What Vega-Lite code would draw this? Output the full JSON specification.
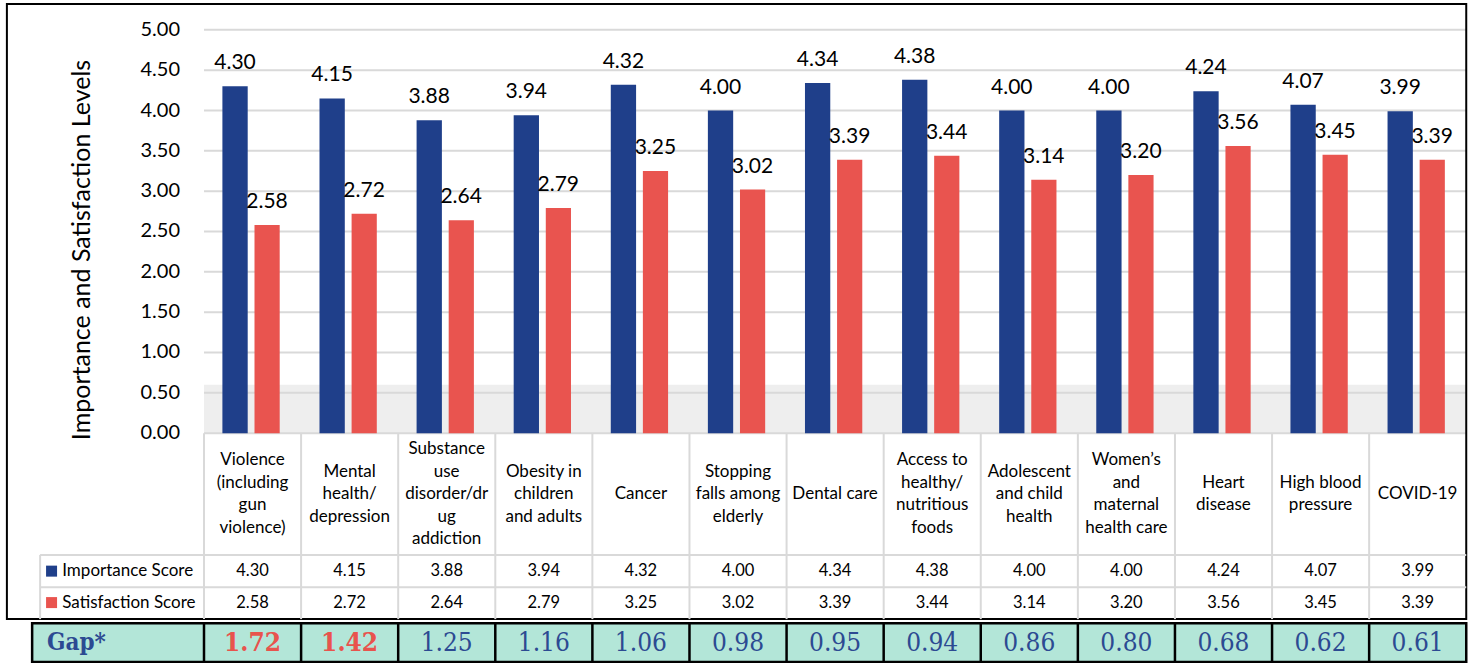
{
  "$schema": "https://vega.github.io/schema/vega-lite/v6.json",
  "width": 1267,
  "height": 663,
  "padding": {"left": 204, "top": 0, "right": 0, "bottom": 0},
  "autosize": {"type": "none"},
  "background": "white",
  "config": {"view": {"stroke": null}, "font": "Lato", "text": {"color": "#000000"}},
  "datasets": {
    "main": [
      {"n": 0, "cat": ["Violence", "(including", "gun", "violence)"], "imp": 4.30, "sat": 2.58, "gap": 1.72},
      {"n": 1, "cat": ["Mental", "health/", "depression"], "imp": 4.15, "sat": 2.72, "gap": 1.42},
      {"n": 2, "cat": ["Substance", "use", "disorder/dr", "ug", "addiction"], "imp": 3.88, "sat": 2.64, "gap": 1.25},
      {"n": 3, "cat": ["Obesity in", "children", "and adults"], "imp": 3.94, "sat": 2.79, "gap": 1.16},
      {"n": 4, "cat": ["Cancer"], "imp": 4.32, "sat": 3.25, "gap": 1.06},
      {"n": 5, "cat": ["Stopping", "falls among", "elderly"], "imp": 4.00, "sat": 3.02, "gap": 0.98},
      {"n": 6, "cat": ["Dental care"], "imp": 4.34, "sat": 3.39, "gap": 0.95},
      {"n": 7, "cat": ["Access to", "healthy/", "nutritious", "foods"], "imp": 4.38, "sat": 3.44, "gap": 0.94},
      {"n": 8, "cat": ["Adolescent", "and child", "health"], "imp": 4.00, "sat": 3.14, "gap": 0.86},
      {"n": 9, "cat": ["Women’s", "and", "maternal", "health care"], "imp": 4.00, "sat": 3.20, "gap": 0.80},
      {"n": 10, "cat": ["Heart", "disease"], "imp": 4.24, "sat": 3.56, "gap": 0.68},
      {"n": 11, "cat": ["High blood", "pressure"], "imp": 4.07, "sat": 3.45, "gap": 0.62},
      {"n": 12, "cat": ["COVID-19"], "imp": 3.99, "sat": 3.39, "gap": 0.61}
    ],
    "grid": [
      {"v": 0}, {"v": 0.5}, {"v": 1}, {"v": 1.5}, {"v": 2}, {"v": 2.5},
      {"v": 3}, {"v": 3.5}, {"v": 4}, {"v": 4.5}, {"v": 5}
    ],
    "one": [{}]
  },
  "data": {"name": "main"},
  "layer": [
    {
      "data": {"name": "one"},
      "mark": {"type": "rect", "color": "#eeeeee"},
      "encoding": {
        "x": {"datum": 0, "type": "quantitative", "scale": {"domain": [0, 13.049], "nice": false, "zero": false}, "axis": null},
        "x2": {"datum": 13},
        "y": {"datum": 0, "type": "quantitative", "scale": {"domain": [-2.85, 5.37], "nice": false, "zero": false}, "axis": null},
        "y2": {"datum": 0.6}
      }
    },
    {
      "data": {"name": "grid"},
      "mark": {"type": "rule", "color": "#d9d9d9", "strokeWidth": 2},
      "encoding": {
        "x": {"datum": 0, "type": "quantitative", "axis": null},
        "x2": {"datum": 13},
        "y": {"field": "v", "type": "quantitative", "axis": null}
      }
    },
    {
      "data": {"name": "grid"},
      "mark": {"type": "text", "align": "right", "baseline": "middle", "dx": -24, "fontSize": 20},
      "encoding": {
        "x": {"datum": 0, "type": "quantitative", "axis": null},
        "y": {"field": "v", "type": "quantitative", "axis": null},
        "text": {"field": "v", "type": "quantitative", "format": ".2f"}
      }
    },
    {
      "data": {"name": "one"},
      "mark": {"type": "text", "align": "center", "baseline": "middle", "angle": 270, "fontSize": 25, "text": "Importance and Satisfaction Levels"},
      "encoding": {
        "x": {"datum": -1.2565, "type": "quantitative", "axis": null},
        "y": {"datum": 2.27, "type": "quantitative", "axis": null}
      }
    },
    {
      "data": {"name": "one"},
      "mark": {"type": "rect", "fill": "#ffffff", "fillOpacity": 0, "stroke": "#000000", "strokeWidth": 2},
      "encoding": {
        "x": {"datum": -2.03, "type": "quantitative", "axis": null},
        "x2": {"datum": 13.0},
        "y": {"datum": 5.32, "type": "quantitative", "axis": null},
        "y2": {"datum": -2.306}
      }
    },
    {
      "mark": {"type": "bar", "color": "#1F3F8A", "xOffset": 18.4, "x2Offset": 43.7},
      "encoding": {
        "x": {"field": "n", "type": "quantitative", "axis": null},
        "x2": {"field": "n"},
        "y": {"field": "imp", "type": "quantitative", "axis": null},
        "y2": {"datum": 0}
      }
    },
    {
      "mark": {"type": "bar", "color": "#E9544F", "xOffset": 50.5, "x2Offset": 75.7},
      "encoding": {
        "x": {"field": "n", "type": "quantitative", "axis": null},
        "x2": {"field": "n"},
        "y": {"field": "sat", "type": "quantitative", "axis": null},
        "y2": {"datum": 0}
      }
    },
    {
      "mark": {"type": "text", "dx": 31, "dy": -17, "baseline": "alphabetic", "align": "center", "fontSize": 21},
      "encoding": {
        "x": {"field": "n", "type": "quantitative", "axis": null},
        "y": {"field": "imp", "type": "quantitative", "axis": null},
        "text": {"field": "imp", "type": "quantitative", "format": ".2f"}
      }
    },
    {
      "mark": {"type": "text", "dx": 63, "dy": -17, "baseline": "alphabetic", "align": "center", "fontSize": 21},
      "encoding": {
        "x": {"field": "n", "type": "quantitative", "axis": null},
        "y": {"field": "sat", "type": "quantitative", "axis": null},
        "text": {"field": "sat", "type": "quantitative", "format": ".2f"}
      }
    },
    {
      "mark": {"type": "rule", "color": "#d9d9d9", "strokeWidth": 2},
      "encoding": {
        "x": {"field": "n", "type": "quantitative", "axis": null},
        "y": {"datum": 0, "type": "quantitative", "axis": null},
        "y2": {"datum": -2.306}
      }
    },
    {
      "data": {"name": "one"},
      "mark": {"type": "rule", "color": "#d9d9d9", "strokeWidth": 2},
      "encoding": {
        "x": {"datum": -1.688, "type": "quantitative", "axis": null},
        "y": {"datum": -1.51, "type": "quantitative", "axis": null},
        "y2": {"datum": -2.306}
      }
    },
    {
      "data": {"name": "one"},
      "mark": {"type": "rule", "color": "#d9d9d9", "strokeWidth": 2},
      "encoding": {
        "x": {"datum": -1.688, "type": "quantitative", "axis": null},
        "x2": {"datum": 13},
        "y": {"datum": -1.51, "type": "quantitative", "axis": null}
      }
    },
    {
      "data": {"name": "one"},
      "mark": {"type": "rule", "color": "#d9d9d9", "strokeWidth": 2},
      "encoding": {
        "x": {"datum": -1.688, "type": "quantitative", "axis": null},
        "x2": {"datum": 13},
        "y": {"datum": -1.91, "type": "quantitative", "axis": null}
      }
    },
    {
      "transform": [{"filter": "length(datum.cat) == 1"}],
      "mark": {"type": "text", "dx": 48.5, "dy": 0, "baseline": "middle", "align": "center", "fontSize": 17, "lineHeight": 22.5},
      "encoding": {
        "x": {"field": "n", "type": "quantitative", "axis": null},
        "y": {"datum": -0.756, "type": "quantitative", "axis": null},
        "text": {"field": "cat", "type": "nominal"}
      }
    },
    {
      "transform": [{"filter": "length(datum.cat) == 2"}],
      "mark": {"type": "text", "dx": 48.5, "dy": -11.25, "baseline": "middle", "align": "center", "fontSize": 17, "lineHeight": 22.5},
      "encoding": {
        "x": {"field": "n", "type": "quantitative", "axis": null},
        "y": {"datum": -0.756, "type": "quantitative", "axis": null},
        "text": {"field": "cat", "type": "nominal"}
      }
    },
    {
      "transform": [{"filter": "length(datum.cat) == 3"}],
      "mark": {"type": "text", "dx": 48.5, "dy": -22.5, "baseline": "middle", "align": "center", "fontSize": 17, "lineHeight": 22.5},
      "encoding": {
        "x": {"field": "n", "type": "quantitative", "axis": null},
        "y": {"datum": -0.756, "type": "quantitative", "axis": null},
        "text": {"field": "cat", "type": "nominal"}
      }
    },
    {
      "transform": [{"filter": "length(datum.cat) == 4"}],
      "mark": {"type": "text", "dx": 48.5, "dy": -33.75, "baseline": "middle", "align": "center", "fontSize": 17, "lineHeight": 22.5},
      "encoding": {
        "x": {"field": "n", "type": "quantitative", "axis": null},
        "y": {"datum": -0.756, "type": "quantitative", "axis": null},
        "text": {"field": "cat", "type": "nominal"}
      }
    },
    {
      "transform": [{"filter": "length(datum.cat) == 5"}],
      "mark": {"type": "text", "dx": 48.5, "dy": -45, "baseline": "middle", "align": "center", "fontSize": 17, "lineHeight": 22.5},
      "encoding": {
        "x": {"field": "n", "type": "quantitative", "axis": null},
        "y": {"datum": -0.756, "type": "quantitative", "axis": null},
        "text": {"field": "cat", "type": "nominal"}
      }
    },
    {
      "mark": {"type": "text", "dx": 48.5, "baseline": "middle", "align": "center", "fontSize": 16.5},
      "encoding": {
        "x": {"field": "n", "type": "quantitative", "axis": null},
        "y": {"datum": -1.711, "type": "quantitative", "axis": null},
        "text": {"field": "imp", "type": "quantitative", "format": ".2f"}
      }
    },
    {
      "mark": {"type": "text", "dx": 48.5, "baseline": "middle", "align": "center", "fontSize": 16.5},
      "encoding": {
        "x": {"field": "n", "type": "quantitative", "axis": null},
        "y": {"datum": -2.101, "type": "quantitative", "axis": null},
        "text": {"field": "sat", "type": "quantitative", "format": ".2f"}
      }
    },
    {
      "data": {"name": "one"},
      "mark": {"type": "square", "filled": true, "size": 121, "color": "#1F3F8A", "opacity": 1},
      "encoding": {
        "x": {"datum": -1.57, "type": "quantitative", "axis": null},
        "y": {"datum": -1.711, "type": "quantitative", "axis": null}
      }
    },
    {
      "data": {"name": "one"},
      "mark": {"type": "square", "filled": true, "size": 121, "color": "#E9544F", "opacity": 1},
      "encoding": {
        "x": {"datum": -1.57, "type": "quantitative", "axis": null},
        "y": {"datum": -2.101, "type": "quantitative", "axis": null}
      }
    },
    {
      "data": {"name": "one"},
      "mark": {"type": "text", "align": "left", "baseline": "middle", "fontSize": 17, "text": "Importance Score"},
      "encoding": {
        "x": {"datum": -1.46, "type": "quantitative", "axis": null},
        "y": {"datum": -1.711, "type": "quantitative", "axis": null}
      }
    },
    {
      "data": {"name": "one"},
      "mark": {"type": "text", "align": "left", "baseline": "middle", "fontSize": 17, "text": "Satisfaction Score"},
      "encoding": {
        "x": {"datum": -1.46, "type": "quantitative", "axis": null},
        "y": {"datum": -2.101, "type": "quantitative", "axis": null}
      }
    },
    {
      "data": {"name": "one"},
      "mark": {"type": "rect", "fill": "#B3E6D8", "stroke": "#000000", "strokeWidth": 2.5},
      "encoding": {
        "x": {"datum": -1.77, "type": "quantitative", "axis": null},
        "x2": {"datum": 13.0},
        "y": {"datum": -2.356, "type": "quantitative", "axis": null},
        "y2": {"datum": -2.839}
      }
    },
    {
      "mark": {"type": "rule", "color": "#000000", "strokeWidth": 2.5},
      "encoding": {
        "x": {"field": "n", "type": "quantitative", "axis": null},
        "y": {"datum": -2.356, "type": "quantitative", "axis": null},
        "y2": {"datum": -2.839}
      }
    },
    {
      "transform": [{"filter": "datum.gap < 1.4"}],
      "mark": {"type": "text", "dx": 48.5, "baseline": "middle", "align": "center", "fontSize": 26, "font": "'DejaVu Serif Condensed', 'Liberation Serif', serif", "color": "#2C4A92"},
      "encoding": {
        "x": {"field": "n", "type": "quantitative", "axis": null},
        "y": {"datum": -2.597, "type": "quantitative", "axis": null},
        "text": {"field": "gap", "type": "quantitative", "format": ".2f"}
      }
    },
    {
      "transform": [{"filter": "datum.gap >= 1.4"}],
      "mark": {"type": "text", "dx": 48.5, "baseline": "middle", "align": "center", "fontSize": 26, "font": "'DejaVu Serif Condensed', 'Liberation Serif', serif", "fontWeight": "bold", "color": "#E8534D"},
      "encoding": {
        "x": {"field": "n", "type": "quantitative", "axis": null},
        "y": {"datum": -2.597, "type": "quantitative", "axis": null},
        "text": {"field": "gap", "type": "quantitative", "format": ".2f"}
      }
    },
    {
      "data": {"name": "one"},
      "mark": {"type": "text", "align": "left", "baseline": "middle", "fontSize": 24, "font": "'DejaVu Serif Condensed', 'Liberation Serif', serif", "fontWeight": "bold", "color": "#2C4A92", "text": "Gap*"},
      "encoding": {
        "x": {"datum": -1.616, "type": "quantitative", "axis": null},
        "y": {"datum": -2.597, "type": "quantitative", "axis": null}
      }
    }
  ]
}
